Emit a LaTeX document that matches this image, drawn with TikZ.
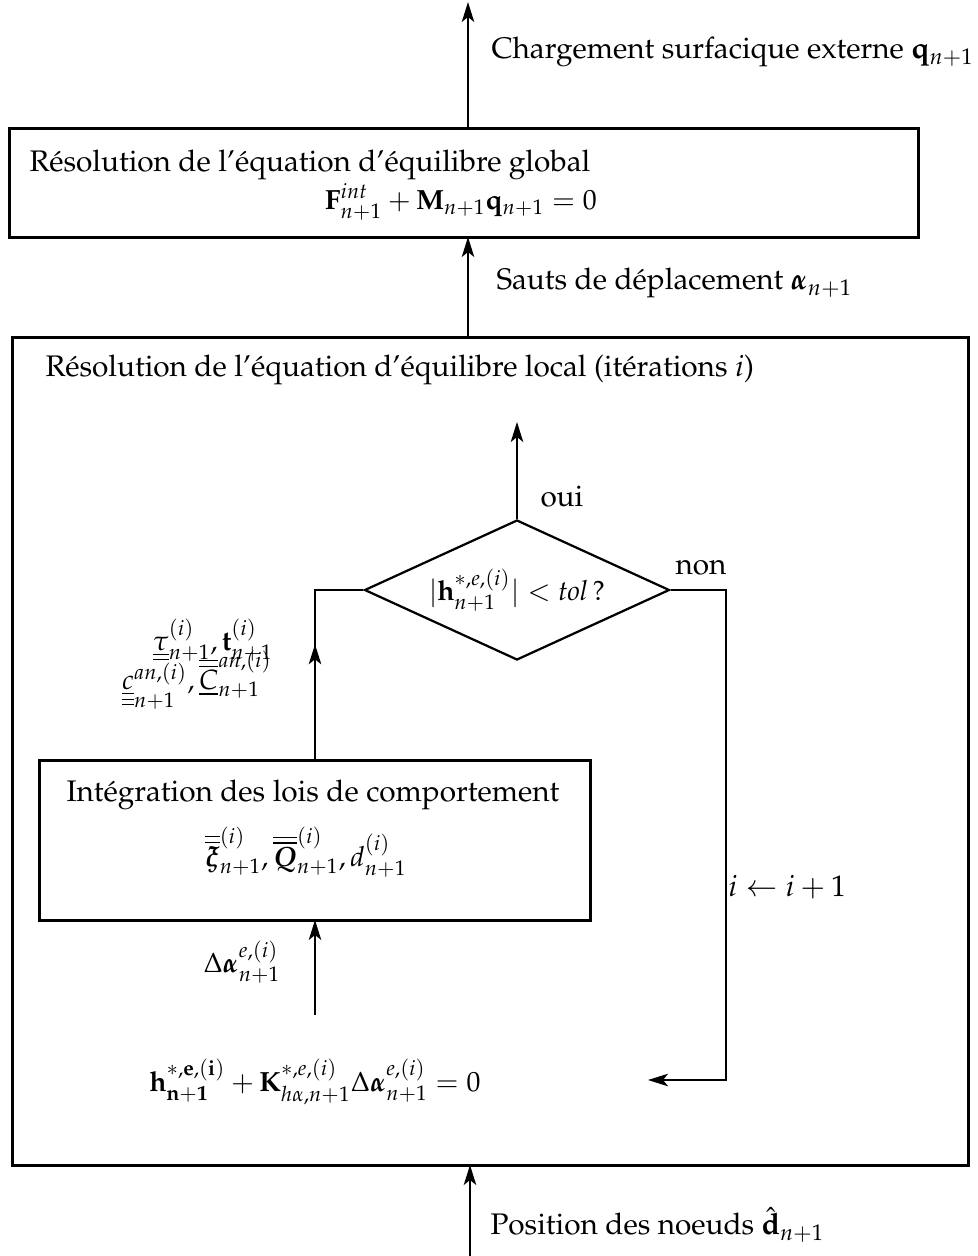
\documentclass[tikz,border=0pt]{standalone}
\usepackage[T1]{fontenc}
\usepackage{mathpazo}
\usepackage{amsmath,bm}
\usetikzlibrary{arrows.meta,shapes.geometric,decorations.markings}
\begin{document}
\begin{tikzpicture}[x=0.4pt,y=-0.4pt,
  every node/.style={font=\fontsize{11.9}{14.3}\selectfont},
  mathsz/.style={font=\fontsize{11.1}{13.3}\selectfont},
  box/.style={draw,line width=1.2pt,inner sep=0pt,outer sep=0pt},
  tip/.style={-{Stealth[length=8pt,width=5pt,inset=2pt]}},
  conn/.style={line width=0.7pt,tip},
  plain/.style={line width=0.7pt},
  lbl/.style={anchor=west,inner sep=0pt},
  txt/.style={inner sep=0pt,mathsz}]
\useasboundingbox (0,0) rectangle (978,1256);
% boxes
\node[box,minimum width=363.2pt,minimum height=43.6pt] (b1) at (464,182.5) {};
\node[box,minimum width=382pt,minimum height=331.2pt] (b2) at (490.5,751) {};
\node[box,minimum width=220pt,minimum height=64pt] (b3) at (315,840) {};
\node[draw,line width=0.9pt,shape=diamond,aspect=2.18,minimum width=122pt,minimum height=56pt,inner sep=0pt,mathsz] (dia) at (517,590) {$|\mathbf{h}^{*,e,(i)}_{n+1}| < \mathit{tol}\,?$};
% texts
\node[lbl] (tq) at (491,52) {Chargement surfacique externe $\mathbf{q}_{n+1}$};
\node[lbl] (t1) at (29,165) {R\'esolution de l'\'equation d'\'equilibre global};
\node[txt] (e1) at (461,202) {$\mathbf{F}^{int}_{n+1} + \mathbf{M}_{n+1}\mathbf{q}_{n+1} = 0$};
\node[lbl] (ta) at (496,283) {Sauts de d\'eplacement $\boldsymbol{\alpha}_{n+1}$};
\node[lbl] (t2) at (45,370) {R\'esolution de l'\'equation d'\'equilibre local (it\'erations $i$)};
\node[lbl] (oui) at (540,496) {oui};
\node[lbl] (non) at (675,568) {non};
\node[lbl] (inc) at (728,887) {$i \leftarrow i+1$};
\node[txt] (l1) at (213,640) {$\underline{\underline{\tau}}^{(i)}_{n+1}, \mathbf{t}^{(i)}_{n+1}$};
\node[txt] (l2) at (197,680) {$\underline{\underline{\underline{c}}}^{an,(i)}_{n+1}, \overline{\overline{\underline{C}}}^{an,(i)}_{n+1}$};
\node[lbl] (t3) at (66,795) {Int\'egration des lois de comportement};
\node[txt] (e3) at (306,852) {$\overline{\overline{\boldsymbol{\xi}}}^{(i)}_{n+1}, \overline{\overline{\boldsymbol{Q}}}^{(i)}_{n+1}, d^{(i)}_{n+1}$};
\node[txt,anchor=east] (da) at (281,962) {$\Delta\boldsymbol{\alpha}^{e,(i)}_{n+1}$};
\node[txt] (eq) at (315,1082) {$\mathbf{h^{*,e,(i)}_{n+1}} + \mathbf{K}^{*,e,(i)}_{h\alpha,n+1}\Delta\boldsymbol{\alpha}^{e,(i)}_{n+1} = 0$};
\node[lbl] (tp) at (490,1225) {Position des noeuds $\hat{\mathbf{d}}_{n+1}$};
% free ends
\coordinate (topend) at (468,2);
\coordinate (botstart) at (470,1256);
\coordinate (ouiend) at (517,422);
\coordinate (loopend) at (648,1080);
\coordinate (lc) at (315,590);
\coordinate (dstart) at (315,1015);
% connectors
\draw[conn] (b1.north -| topend) -- (topend);
\draw[conn] (b2.north -| topend) -- (b1.south -| topend);
\draw[conn] (botstart) -- (botstart |- b2.south);
\draw[conn] (dia.north) -- (ouiend);
\draw[conn] (dia.east) -- ++(55,0) |- (loopend);
\draw[plain,postaction={decorate},decoration={markings,mark=at position 0.53 with {\arrow{Stealth[length=8pt,width=5pt,inset=2pt]}}}] (b3.north -| lc) -- (lc) -- (dia.west);
\draw[conn] (dstart) -- (dstart |- b3.south);
\end{tikzpicture}
\end{document}
